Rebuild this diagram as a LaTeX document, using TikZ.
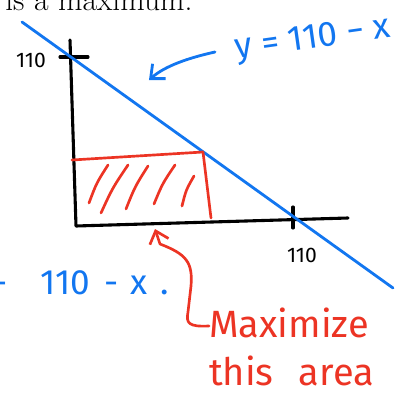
\documentclass[tikz,border=0pt]{standalone}
\usepackage{fontspec}
\setsansfont{Fira Sans}
\usetikzlibrary{arrows.meta, positioning, calc}

\definecolor{penblue}{RGB}{18,118,240}
\definecolor{penred}{RGB}{236,52,36}

\begin{document}
\begin{tikzpicture}[x=0.025cm, y=-0.025cm, >={Straight Barb[length=8pt, width=14pt]}]
    \tikzset{
        axis/.style={draw, line width=2.2pt, line cap=round, line join=round},
        bluepen/.style={draw=penblue, line width=2pt, line cap=round},
        redpen/.style={draw=penred, line width=1.9pt, line cap=round, line join=round},
        lbl/.style={font=\sffamily\fontsize{15}{18}\selectfont, inner sep=0pt},
        bluetxt/.style={text=penblue, font=\sffamily\fontsize{25}{30}\selectfont, inner sep=0pt},
        redtxt/.style={text=penred, font=\sffamily\fontsize{27}{34}\selectfont, inner sep=0pt, align=left},
    }
    \useasboundingbox (0,0) rectangle (404,395);
    \clip (0,0) rectangle (404,395);

    \node[anchor=base west, inner sep=0pt, font=\fontsize{22.5}{26}\selectfont] (top) at (5,10) {is a maximum.};

    % axes
    \coordinate (o) at (76,226);
    \coordinate (ytop) at (70,40);
    \coordinate (xend) at (348,218);
    \draw[axis] (ytop) -- (o) -- (xend);
    \coordinate (ytick) at (71,57);
    \coordinate (xtick) at (293,217);
    \draw[axis] ($(ytick)+(-11,0)$) -- ($(ytick)+(17,0)$);
    \draw[axis] ($(xtick)+(0,-10)$) -- ($(xtick)+(0,11)$);
    \node[lbl] (ylbl) at (31,60) {110};
    \node[lbl] (xlbl) at (302,255) {110};

    % the line y = 110 - x
    \coordinate (ltop) at (22,22);
    \coordinate (lbot) at (393,288);
    \draw[bluepen] (ltop) -- (lbot);
    \node[bluetxt, rotate=8] (eqn) at (313,40) {y = 110 − x};
    \coordinate (atail) at (215,52);
    \coordinate (ahead) at (149,80);
    \draw[bluepen, ->] (atail) .. controls (188,58) and (165,66) .. (ahead);
    \node[bluetxt, anchor=base west] (side) at (-7,294) {-\hspace{0.95em}110\hspace{0.4em}-\hspace{0.35em}x\hspace{0.35em}.};

    % the rectangle
    \coordinate (r1) at (72,160);
    \coordinate (r2) at (203,152);
    \coordinate (r3) at (211,218);
    \draw[redpen] (r1) -- (r2) -- (r3);
    \foreach \xa/\ya/\xb/\yb in {89/203/108/165, 101/213/128/165, 126/209/148/166, 154/204/175/165, 182/206/194/176}
        \draw[redpen] (\xa,\ya) .. controls ($(\xa,\ya)!0.5!(\xb,\yb)+(-2,-1)$) .. (\xb,\yb);

    % label for the area
    \node[redtxt, anchor=north west] (note) at (209,308) {Maximize\\this\hspace{0.4em} area};
    \coordinate (rhead) at (155,229);
    \draw[redpen, <-] (rhead) -- (160,244) .. controls (186,254) and (193,262) .. (191,286)
        -- (188,312) .. controls (186,323) and (188,327) .. (note.west |- 326,326);
\end{tikzpicture}
\end{document}
